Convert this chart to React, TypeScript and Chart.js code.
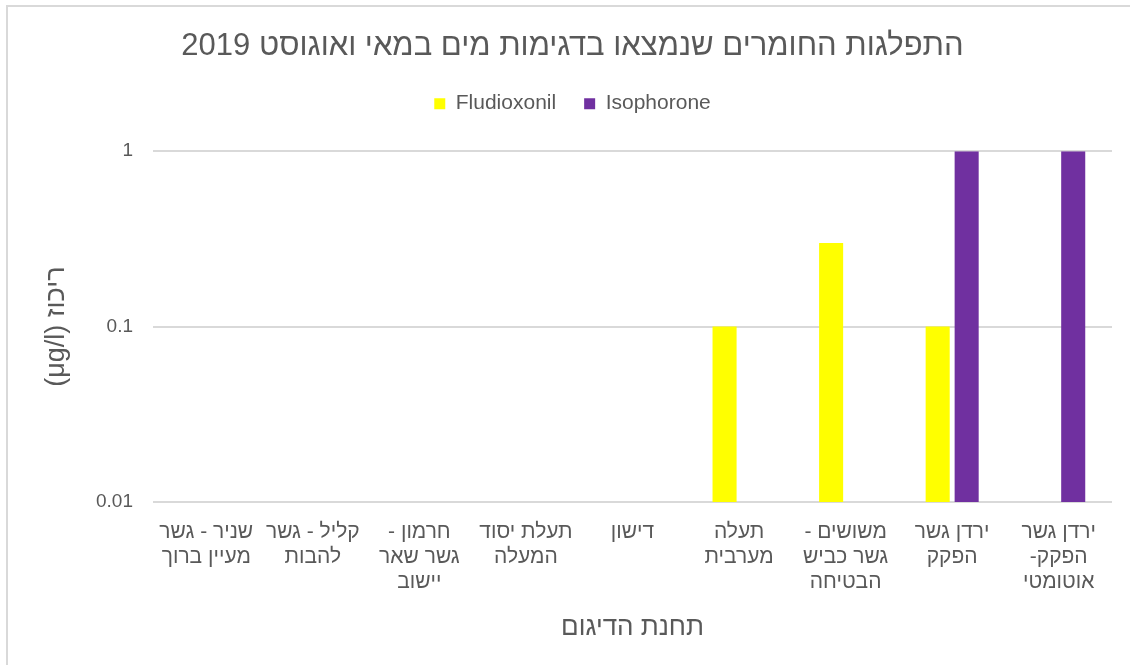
import React, { useEffect, useRef } from "react";
import { Chart, registerables } from "chart.js";

Chart.register(...registerables);

const titleText = "התפלגות החומרים שנמצאו בדגימות מים במאי ואוגוסט 2019";
const xTitle = "תחנת הדיגום";
const yTitle = "ריכוז (μg/l)";

const categories: string[][] = [
  ["שניר - גשר", "מעיין ברוך"],
  ["קליל - גשר", "להבות"],
  ["חרמון -", "גשר שאר", "יישוב"],
  ["תעלת יסוד", "המעלה"],
  ["דישון"],
  ["תעלה", "מערבית"],
  ["משושים -", "גשר כביש", "הבטיחה"],
  ["ירדן גשר", "הפקק"],
  ["ירדן גשר", "הפקק-", "אוטומטי"],
];

const seriesNames = ["Fludioxonil", "Isophorone"];
const fludioxonil: (number | null)[] = [null, null, null, null, null, 0.1, 0.3, 0.1, null];
const isophorone: (number | null)[] = [null, null, null, null, null, null, null, 1, 1];
const yTicks = [0.01, 0.1, 1];

const TEXT = "#595959";
const GRID = "#d9d9d9";
const FONT = "'Liberation Sans', Arial, sans-serif";

export default function App() {
  const ref = useRef<HTMLCanvasElement | null>(null);

  useEffect(() => {
    const prevMargin = document.body.style.margin;
    document.body.style.margin = "0";
    if (!ref.current) return;
    const legendSpacer = {
      id: "legendSpacer",
      beforeInit(chart: any) {
        const fit = chart.legend.fit;
        chart.legend.fit = function () {
          fit.call(this);
          this.height += 27;
        };
      },
    };
    const chart = new Chart(ref.current, {
      type: "bar",
      data: {
        labels: categories,
        datasets: [
          {
            label: seriesNames[0],
            data: fludioxonil,
            backgroundColor: "#FFFF00",
            borderWidth: 0,
            categoryPercentage: 0.544,
            barPercentage: 0.83,
          },
          {
            label: seriesNames[1],
            data: isophorone,
            backgroundColor: "#7030A0",
            borderWidth: 0,
            categoryPercentage: 0.544,
            barPercentage: 0.83,
          },
        ],
      },
      options: {
        animation: false,
        responsive: true,
        maintainAspectRatio: false,
        layout: { padding: { left: 25, right: 18, top: 0, bottom: 0 } },
        plugins: {
          title: {
            display: true,
            text: titleText,
            color: TEXT,
            font: { family: FONT, size: 31, weight: "normal" },
            padding: { top: 21, bottom: 0 },
          },
          legend: {
            display: true,
            position: "top",
            labels: {
              color: TEXT,
              font: { family: FONT, size: 21 },
              boxWidth: 11,
              boxHeight: 11,
              padding: 28,
            },
          },
          tooltip: { enabled: false },
        },
        scales: {
          x: {
            grid: { display: false },
            border: { display: false },
            ticks: {
              color: TEXT,
              font: { family: FONT, size: 21, lineHeight: 1.19 },
              padding: 10,
              maxRotation: 0,
              autoSkip: false,
            },
            title: {
              display: true,
              text: xTitle,
              color: TEXT,
              font: { family: FONT, size: 26 },
              padding: { top: 0, bottom: 22 },
            },
            afterFit(scale: any) {
              scale.height = 163;
            },
          },
          y: {
            type: "logarithmic",
            min: 0.01,
            max: 1,
            grid: { color: GRID, lineWidth: 2, drawTicks: false },
            border: { display: false },
            afterBuildTicks(scale: any) {
              scale.ticks = yTicks.map((v) => ({ value: v }));
            },
            ticks: {
              color: TEXT,
              font: { family: FONT, size: 19 },
              padding: 20,
              callback: (v: any) => String(v),
            },
            title: {
              display: true,
              text: yTitle,
              color: TEXT,
              font: { family: FONT, size: 27 },
              padding: { top: 7, bottom: 0 },
            },
            afterFit(scale: any) {
              scale.width = 120;
            },
          },
        },
      },
      plugins: [legendSpacer],
    } as any);
    return () => {
      chart.destroy();
      document.body.style.margin = prevMargin;
    };
  }, []);

  return (
    <div style={{ position: "fixed", inset: 0, overflow: "hidden", background: "#fff" }}>
      <div
        style={{
          position: "absolute",
          left: 6,
          top: 5,
          width: 1122,
          height: 658,
          border: `2px solid ${GRID}`,
        }}
      >
        <div style={{ position: "relative", width: 1122, height: 658 }}>
          <canvas ref={ref} dir="rtl" />
        </div>
      </div>
    </div>
  );
}
